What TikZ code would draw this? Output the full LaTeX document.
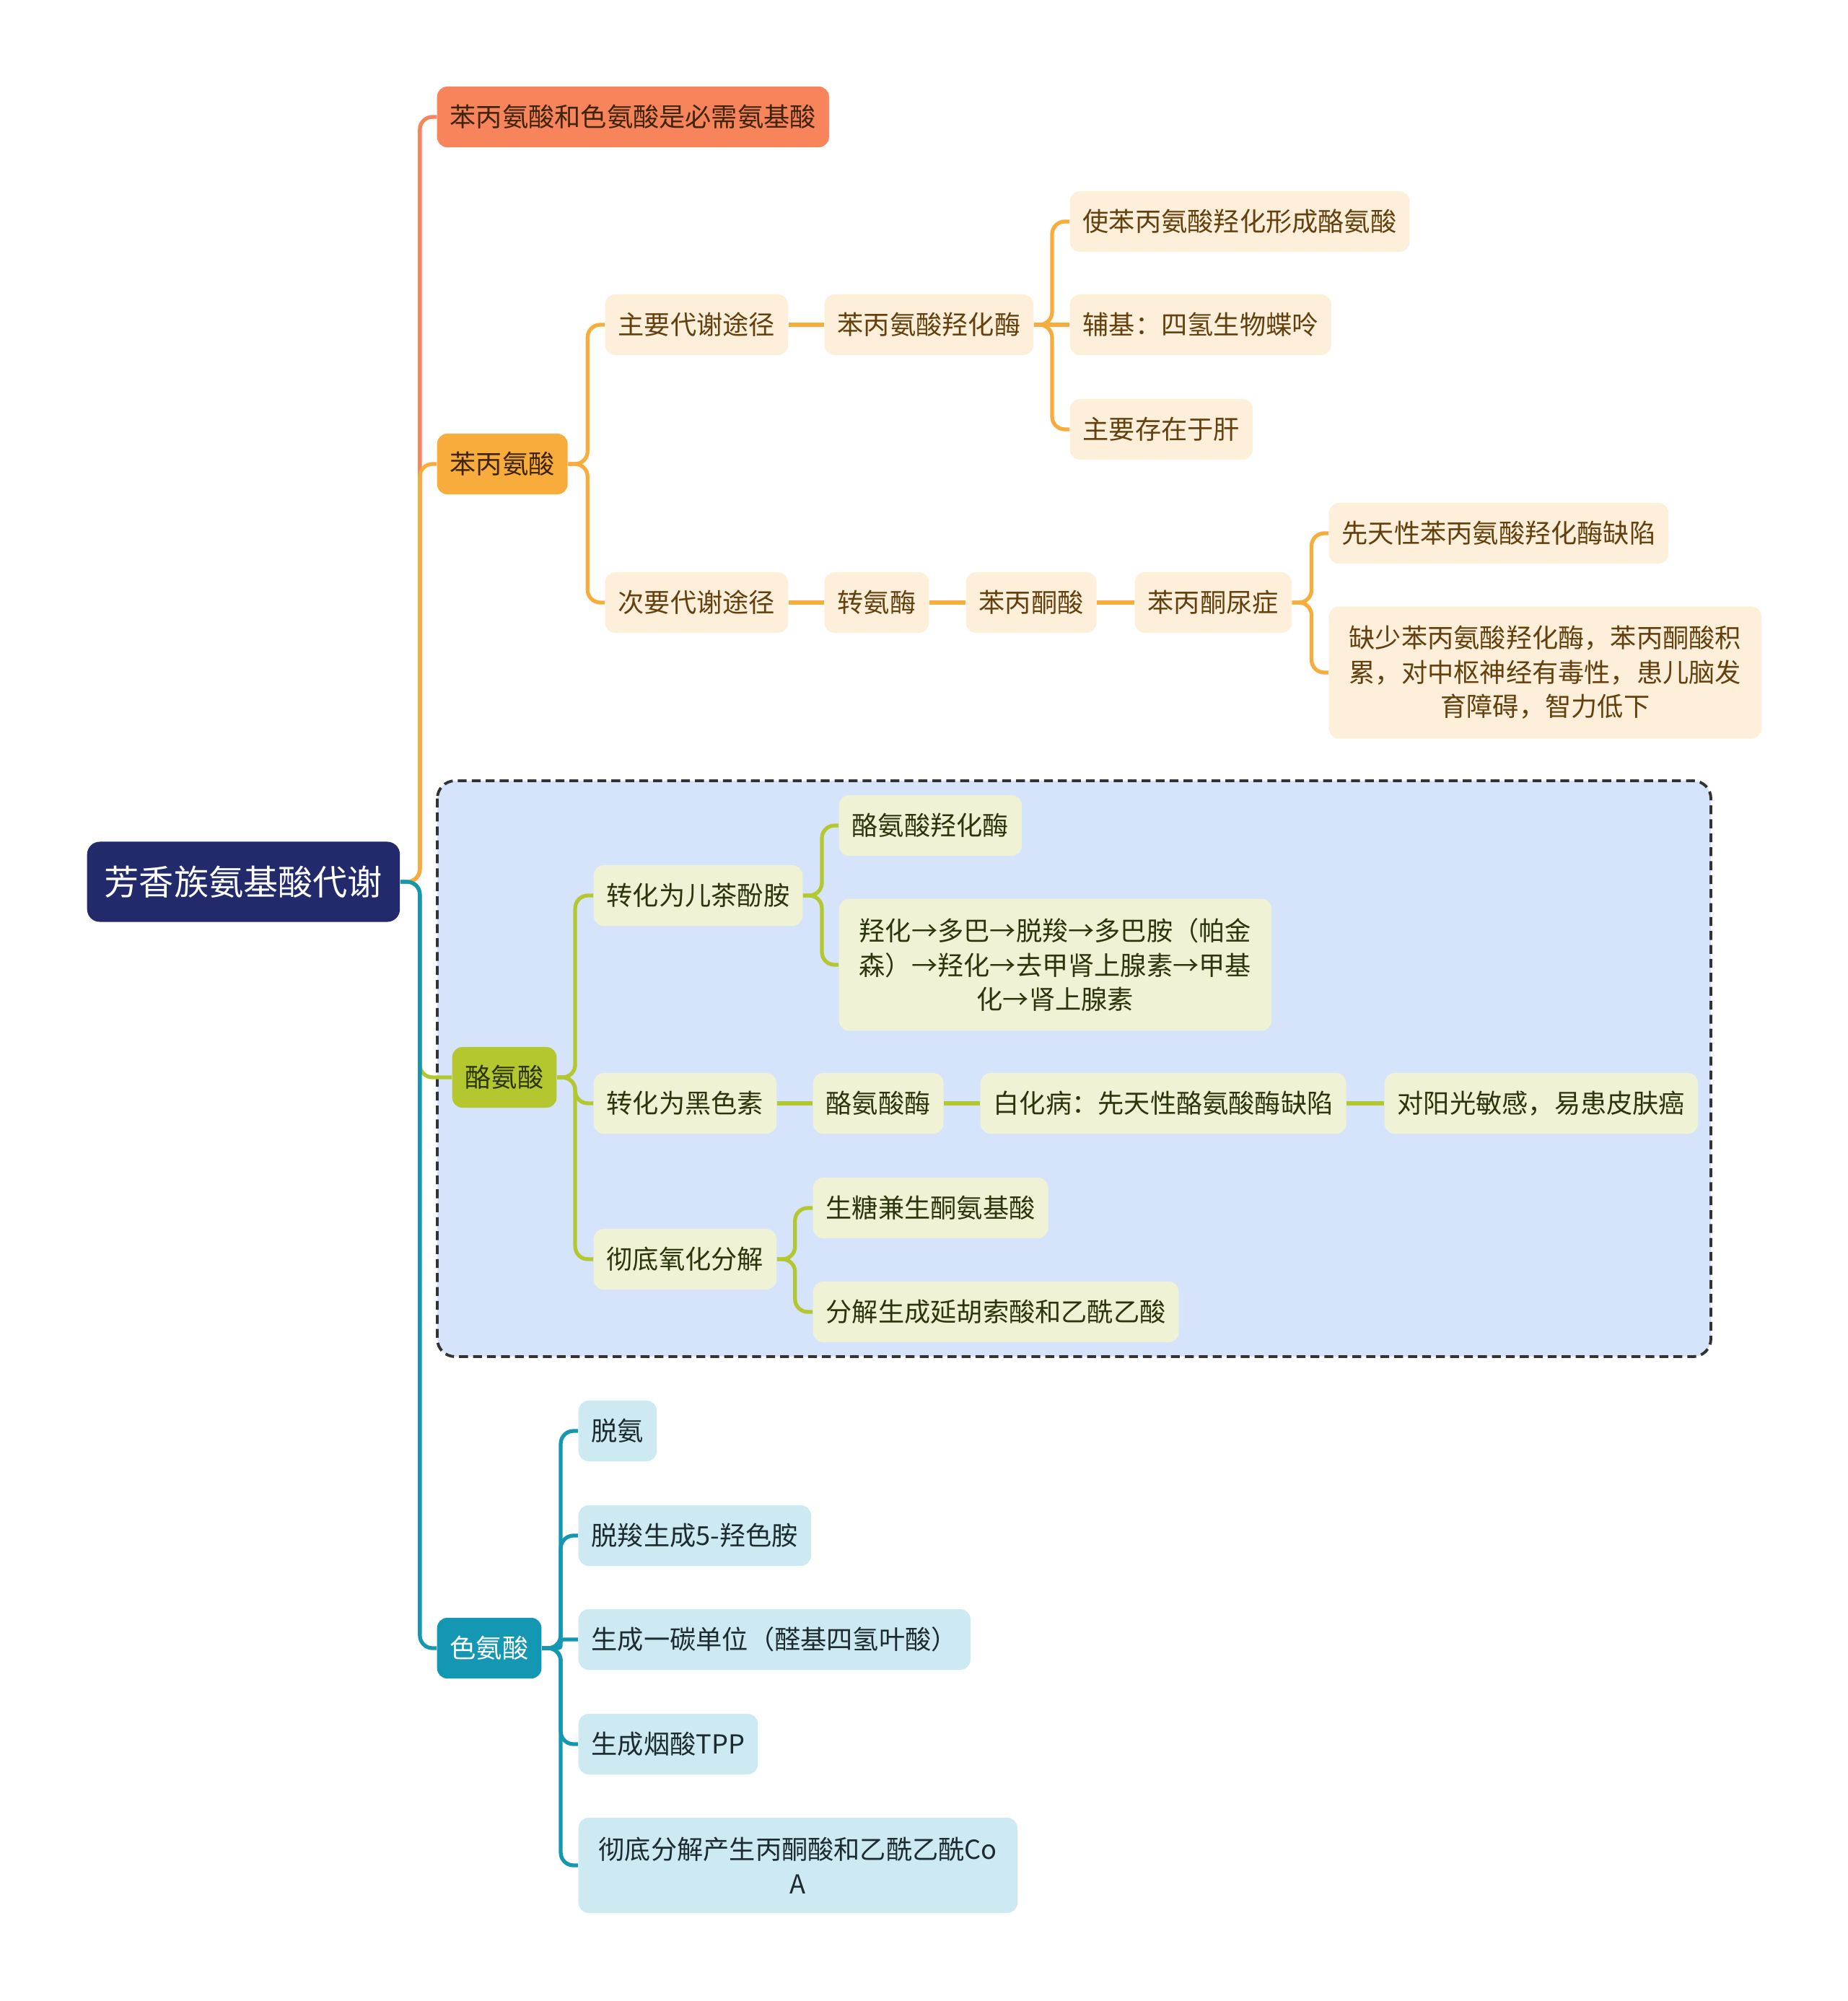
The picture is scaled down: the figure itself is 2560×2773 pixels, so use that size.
\documentclass[tikz,border=0pt]{standalone}
\usepackage{fontspec}
\setmainfont{Noto Sans CJK SC}
\usepackage{tikz}
\definecolor{shenLan}{HTML}{222A6B}
\definecolor{shanHu}{HTML}{F7845B}
\definecolor{juHuang}{HTML}{F8AC3C}
\definecolor{qianHuang}{HTML}{FDEFD9}
\definecolor{zongSe}{HTML}{63400E}
\definecolor{heZong}{HTML}{3F240C}
\definecolor{caoLv}{HTML}{B5C72E}
\definecolor{qianLv}{HTML}{EFF2D4}
\definecolor{ganLan}{HTML}{2C340C}
\definecolor{tianLan}{HTML}{D5E4FB}
\definecolor{qingLan}{HTML}{1497B2}
\definecolor{qianQing}{HTML}{CDE9F1}
\definecolor{moSe}{HTML}{1B2B30}
\definecolor{xuHui}{HTML}{333333}

\begin{document}
\begin{tikzpicture}[x=0.01cm,y=-0.01cm,
  jieDian/.style={rounded corners=4pt,anchor=west,inner xsep=0.18cm,inner ysep=0.17cm,
    minimum height=0.84cm,align=center,font=\fontsize{10.3pt}{13.5pt}\selectfont},
  duoHang/.style={inner xsep=0.28cm,inner ysep=0.27cm},
  gen/.style={jieDian,fill=shenLan,text=white,inner xsep=0.24cm,minimum height=1.11cm,
    rounded corners=5pt,font=\fontsize{13.7pt}{16pt}\selectfont},
  chengYe/.style={jieDian,fill=qianHuang,text=zongSe},
  lvYe/.style={jieDian,fill=qianLv,text=ganLan},
  qingYe/.style={jieDian,fill=qianQing,text=moSe},
  xian/.style={line width=1.5pt,rounded corners=5pt},
  xuKuang/.style={fill=tianLan,draw=xuHui,line width=1.1pt,dash pattern=on 3.5pt off 2pt,rounded corners=7pt}]
\fill[white] (0,0) rectangle (2560,2773);
\useasboundingbox (0,0) rectangle (2560,2773);
% gen
\node[gen] (root) at (120,1222) {芳香族氨基酸代谢};
\node[jieDian,fill=shanHu,text=heZong] (biXu) at (605,162) {苯丙氨酸和色氨酸是必需氨基酸};
% benbingansuan
\node[jieDian,fill=juHuang,text=heZong] (phe) at (605,643) {苯丙氨酸};
\node[chengYe] (zhuYao) at (838,450) {主要代谢途径};
\node[chengYe] (pheMei) at (1142,450) {苯丙氨酸羟化酶};
\node[chengYe] (shiTa) at (1482,307) {使苯丙氨酸羟化形成酪氨酸};
\node[chengYe] (fuJi) at (1482,450) {辅基：四氢生物蝶呤};
\node[chengYe] (cunZai) at (1482,595) {主要存在于肝};
\node[chengYe] (ciYao) at (838,835) {次要代谢途径};
\node[chengYe] (zhuanAn) at (1142,835) {转氨酶};
\node[chengYe] (bingTong) at (1338,835) {苯丙酮酸};
\node[chengYe] (niaoZheng) at (1572,835) {苯丙酮尿症};
\node[chengYe] (queXian) at (1841,739) {先天性苯丙氨酸羟化酶缺陷};
\node[chengYe,duoHang] (queShao) at (1841,932) {缺少苯丙氨酸羟化酶，苯丙酮酸积\\累，对中枢神经有毒性，患儿脑发\\育障碍，智力低下};
% laoansuan
\draw[xuKuang] (606,1082) rectangle (2371,1880);
\node[jieDian,fill=caoLv,text=ganLan] (tyr) at (626,1493) {酪氨酸};
\node[lvYe] (erCha) at (822,1241) {转化为儿茶酚胺};
\node[lvYe] (laoMei) at (1162,1144) {酪氨酸羟化酶};
\node[lvYe,duoHang] (duoBa) at (1162,1337) {羟化→多巴→脱羧→多巴胺（帕金\\森）→羟化→去甲肾上腺素→甲基\\化→肾上腺素};
\node[lvYe] (heiSe) at (822,1529) {转化为黑色素};
\node[lvYe] (laoAnMei) at (1126,1529) {酪氨酸酶};
\node[lvYe] (baiHua) at (1358,1529) {白化病：先天性酪氨酸酶缺陷};
\node[lvYe] (yangGuang) at (1918,1529) {对阳光敏感，易患皮肤癌};
\node[lvYe] (cheDi) at (822,1745) {彻底氧化分解};
\node[lvYe] (shengTang) at (1126,1674) {生糖兼生酮氨基酸};
\node[lvYe] (fenJie) at (1126,1818) {分解生成延胡索酸和乙酰乙酸};
% seansuan
\node[jieDian,fill=qingLan,text=white] (trp) at (605,2284) {色氨酸};
\node[qingYe] (tuoAn) at (801,1983) {脱氨};
\node[qingYe] (tuoSuo) at (801,2128) {脱羧生成5-羟色胺};
\node[qingYe] (yiTan) at (801,2272) {生成一碳单位（醛基四氢叶酸）};
\node[qingYe] (yanSuan) at (801,2417) {生成烟酸TPP};
\node[qingYe,duoHang] (fenJieCo) at (801,2585) {彻底分解产生丙酮酸和乙酰乙酰Co\\A};
% lianxian
\draw[xian,shanHu] (root.east) -- ++(27,0) |- (biXu.west);
\draw[xian,juHuang] (root.east) -- ++(27,0) |- (phe.west);
\draw[xian,caoLv] (root.east) -- ++(27,0) |- (tyr.west);
\draw[xian,qingLan] (root.east) -- ++(27,0) |- (trp.west);
\draw[xian,juHuang] (phe.east) -- ++(27,0) |- (zhuYao.west);
\draw[xian,juHuang] (phe.east) -- ++(27,0) |- (ciYao.west);
\draw[xian,juHuang] (zhuYao.east) -- (pheMei.west);
\draw[xian,juHuang] (pheMei.east) -- ++(25,0) |- (shiTa.west);
\draw[xian,juHuang] (pheMei.east) -- (fuJi.west);
\draw[xian,juHuang] (pheMei.east) -- ++(25,0) |- (cunZai.west);
\draw[xian,juHuang] (ciYao.east) -- (zhuanAn.west);
\draw[xian,juHuang] (zhuanAn.east) -- (bingTong.west);
\draw[xian,juHuang] (bingTong.east) -- (niaoZheng.west);
\draw[xian,juHuang] (niaoZheng.east) -- ++(27,0) |- (queXian.west);
\draw[xian,juHuang] (niaoZheng.east) -- ++(27,0) |- (queShao.west);
\draw[xian,caoLv] (tyr.east) -- ++(25,0) |- (erCha.west);
\draw[xian,caoLv] (tyr.east) -- ++(25,0) |- (heiSe.west);
\draw[xian,caoLv] (tyr.east) -- ++(25,0) |- (cheDi.west);
\draw[xian,caoLv] (erCha.east) -- ++(26,0) |- (laoMei.west);
\draw[xian,caoLv] (erCha.east) -- ++(26,0) |- (duoBa.west);
\draw[xian,caoLv] (heiSe.east) -- (laoAnMei.west);
\draw[xian,caoLv] (laoAnMei.east) -- (baiHua.west);
\draw[xian,caoLv] (baiHua.east) -- (yangGuang.west);
\draw[xian,caoLv] (cheDi.east) -- ++(25,0) |- (shengTang.west);
\draw[xian,caoLv] (cheDi.east) -- ++(25,0) |- (fenJie.west);
\foreach \ye in {tuoAn,tuoSuo,yanSuan,fenJieCo}
  \draw[xian,qingLan] (trp.east) -- ++(26,0) |- (\ye.west);
\draw[xian,qingLan,rounded corners=1pt] (trp.east) -- ++(26,0) |- (yiTan.west);
\end{tikzpicture}
\end{document}
